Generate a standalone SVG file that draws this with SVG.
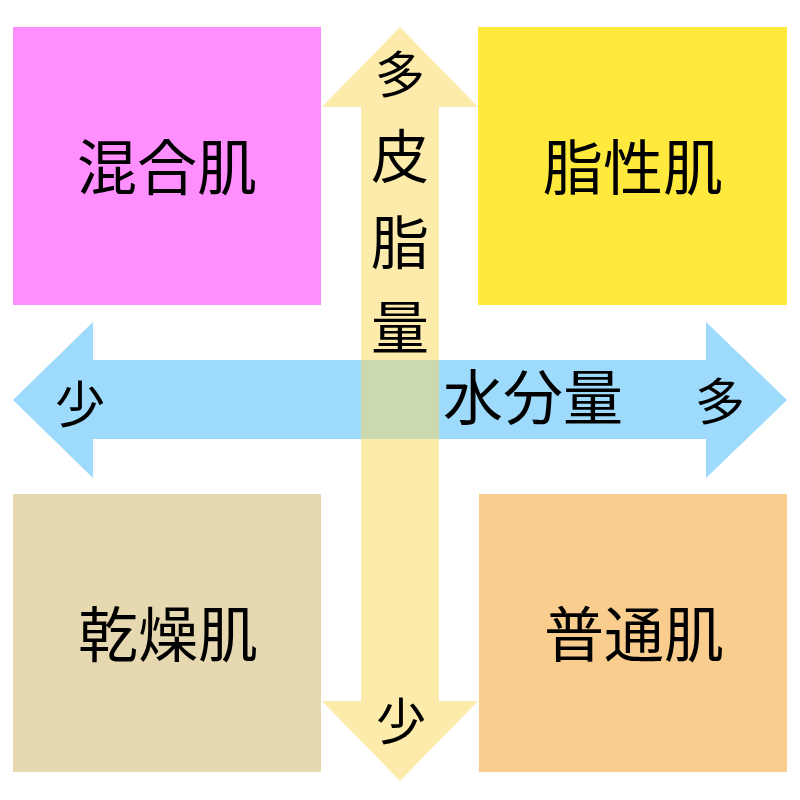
<svg xmlns="http://www.w3.org/2000/svg" width="800" height="800" viewBox="0 0 800 800">
<style>
  .box-text{font-family:"Noto Sans CJK JP","Noto Sans CJK SC",sans-serif;font-size:60px;fill:#000;text-anchor:middle}
  .axis-big{font-family:"Noto Sans CJK JP","Noto Sans CJK SC",sans-serif;font-size:58px;fill:#000;text-anchor:middle}
  .axis-small{font-family:"Noto Sans CJK JP","Noto Sans CJK SC",sans-serif;font-size:50px;fill:#000;text-anchor:middle}
</style>
<rect width="800" height="800" fill="#ffffff"/>
<g id="node-mixed">
  <rect x="13" y="27" width="308" height="278" fill="#FF8FFF"/>
  <text class="box-text" x="167" y="190">混合肌</text>
</g>
<g id="node-oily">
  <rect x="478" y="27" width="309" height="278" fill="#FFE93C"/>
  <text class="box-text" x="633" y="190">脂性肌</text>
</g>
<g id="node-dry">
  <rect x="13" y="494" width="308" height="278" fill="#E6D8B0"/>
  <text class="box-text" x="168" y="657">乾燥肌</text>
</g>
<g id="node-normal">
  <rect x="479" y="494" width="308" height="278" fill="#F9CD8D"/>
  <text class="box-text" x="634" y="657">普通肌</text>
</g>
<g id="connectors">
  <polygon id="axis-sebum" points="400,27 478,107 439,107 439,701 478,701 400,781 322,701 361,701 361,107 322,107" fill="#FDEBAB"/>
  <polygon id="axis-water" points="13,400 93,322 93,360 706,360 706,322 787,400 706,478 706,439 93,439 93,478" fill="#9DDAFB"/>
  <rect x="361" y="360" width="78" height="79" fill="#CBDAAE"/>
</g>
<g id="axis-labels">
  <text class="axis-small" x="400" y="93">多</text>
  <text class="axis-big" x="400" y="178">皮</text>
  <text class="axis-big" x="400" y="264">脂</text>
  <text class="axis-big" x="400" y="349">量</text>
  <text class="axis-small" x="401" y="740">少</text>
  <text class="axis-small" x="80" y="423">少</text>
  <text class="axis-small" x="720" y="420">多</text>
  <text class="box-text" x="533" y="420">水分量</text>
</g>
</svg>
